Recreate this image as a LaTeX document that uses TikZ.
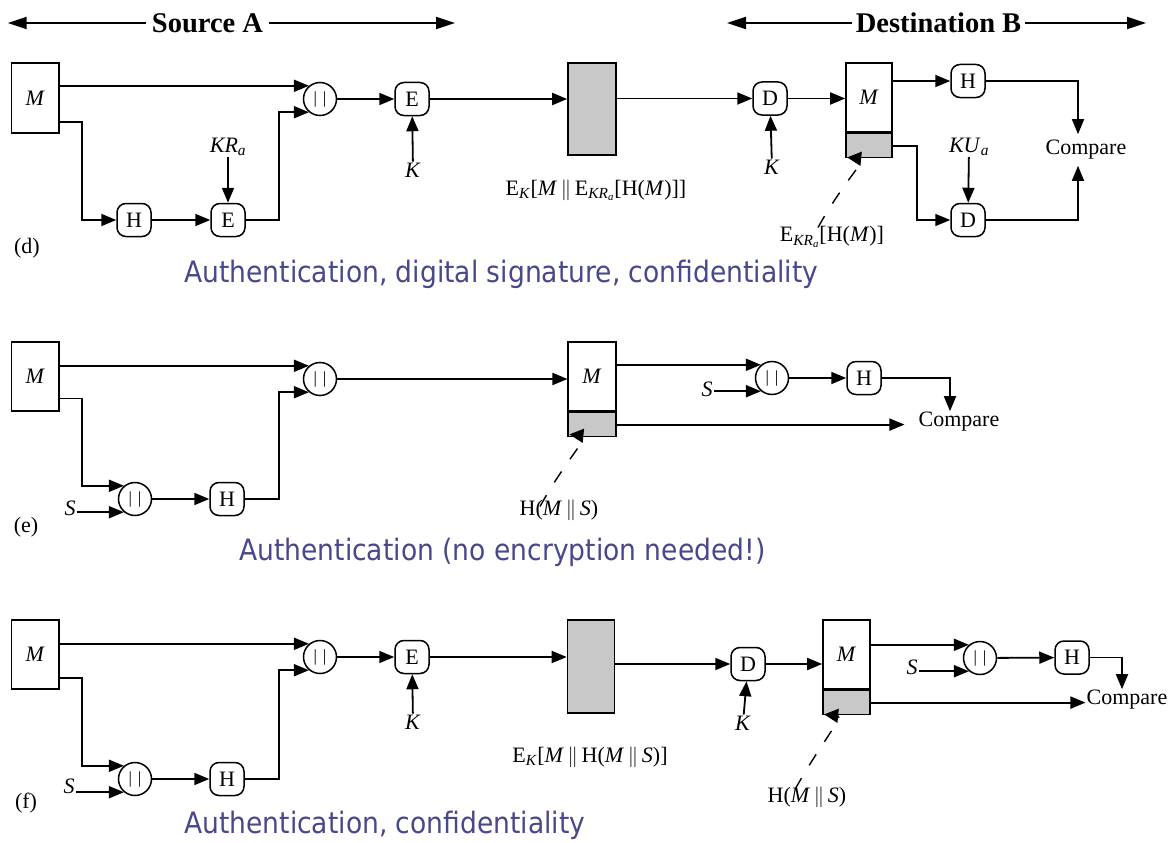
\documentclass[tikz,border=0pt]{standalone}
\usepackage{fontspec}
\setmainfont{Liberation Serif}
\newfontfamily\capfont[FakeStretch=0.9]{DejaVu Sans}
\usetikzlibrary{arrows.meta,calc}
\definecolor{capblue}{RGB}{72,72,140}
\definecolor{boxgray}{RGB}{200,200,200}
\newcommand{\catbars}{{\fontsize{17}{17}\selectfont|\kern6pt|}}
\newcommand{\dbar}{\,$\Vert$\,}
\begin{document}
\begin{tikzpicture}[x=1pt,y=-1pt,
 every node/.style={font=\fontsize{22}{24}\selectfont, inner sep=1pt},
 arr/.style={line width=1.8pt,-{Triangle[length=15pt,width=12pt]}},
 harr/.style={line width=2pt,-{Triangle[length=19pt,width=12pt]}},
 cat/.style={circle,draw,line width=1.5pt,minimum size=33pt,inner sep=0pt},
 op/.style={draw,line width=1.5pt,rounded corners=9pt,minimum width=34pt,minimum height=33pt,inner sep=0pt},
 mbox/.style={draw,line width=1.6pt,minimum width=47.5pt,minimum height=70pt,inner sep=0pt},
 gbox/.style={draw,line width=1.6pt,fill=boxgray,inner sep=0pt},
 ptr/.style={line width=1.4pt,dash pattern=on 13pt off 15pt,-{Triangle[length=14pt,width=14pt]}},
 captext/.style={font=\capfont\fontsize{29.5}{32}\selectfont,text=capblue,anchor=base west,inner sep=0pt},
 hdr/.style={font=\bfseries\fontsize{28.5}{30}\selectfont,inner xsep=6pt}]
\useasboundingbox (0,0) rectangle (1170,843);
\fill[white] (0,0) rectangle (1170,843);

% ---------- headers
\node[hdr] (hsA) at (207.5,23) {Source A};
\coordinate (hA1) at (7.7,23);
\coordinate (hA2) at (455,23);
\draw[harr] (hsA.west) -- (hA1);
\draw[harr] (hsA.east) -- (hA2);
\node[hdr,inner xsep=4pt] (hdB) at (938.5,23) {Destination B};
\coordinate (hB1) at (727,23);
\coordinate (hB2) at (1146,23);
\draw[harr] (hdB.west) -- (hB1);
\draw[harr] (hdB.east) -- (hB2);

% ---------- panel (d)
\node[mbox] (dM) at (35.25,98) {\textit{M}};
\node[cat] (dcat) at (320,99) {\catbars};
\node[op] (dH) at (134,220) {H};
\node[op] (dE) at (228,220) {E};
\node (dKR) at (228,147) {\textit{KR}\textsubscript{\textit{a}}};
\node[op] (dE1) at (412,99) {E};
\node (dK) at (413,170) {\textit{K}};
\node[gbox,minimum width=48pt,minimum height=92pt] (dG) at (592,109) {};
\node (dL1) at (596,190) {E\textsubscript{\textit{K}}[\textit{M}\dbar E\textsubscript{\textit{KR}\textsubscript{\textit{a}}}[H(\textit{M})]]};
\node[op] (dD) at (770,98.5) {D};
\node (dK2) at (772,167) {\textit{K}};
\node[mbox,minimum width=46pt,minimum height=69pt] (dR) at (869,97.5) {\textit{M}};
\node[gbox,minimum width=46pt,minimum height=24pt,anchor=north] (dRg) at (dR.south) {};
\node[op] (dH2) at (968,81) {H};
\node[op] (dD2) at (968,220) {D};
\node (dKU) at (969,147) {\textit{KU}\textsubscript{\textit{a}}};
\node[inner ysep=6pt] (dC) at (1086,150) {Compare};
\node (dL2) at (832,237) {E\textsubscript{\textit{KR}\textsubscript{\textit{a}}}[H(\textit{M})]};
\node (dlab) at (27,248) {(d)};
\node[captext] (dcap) at (184,282) {Authentication, digital signature, confidentiality};

\draw[arr] (dM.east |- dcat.130) -- (dcat.130);
\coordinate (dk1) at (82,220);
\draw[arr] ([yshift=-24pt]dM.east) -| (dk1) -- (dH);
\draw[arr] (dH) -- (dE);
\draw[arr] (dKR) -- (dE);
\coordinate (dk2) at (279,220);
\draw[arr] (dE) -- (dk2) |- (dcat.230);
\draw[arr] (dcat) -- (dE1);
\draw[arr] (dK) -- (dE1);
\draw[arr] (dE1) -- (dE1 -| dG.west);
\draw[arr] (dG.east |- dD) -- (dD);
\draw[arr] (dK2) -- (dD);
\draw[arr] (dD) -- (dD -| dR.west);
\draw[arr] (dR.east |- dH2) -- (dH2);
\draw[arr] (dH2) -| ([xshift=-8pt]dC.north);
\coordinate (dk3) at (917,220);
\draw[arr] (dRg.east) -| (dk3) -- (dD2);
\draw[arr] (dKU) -- (dD2);
\draw[arr] (dD2) -| ([xshift=-8pt]dC.south);
\coordinate (dps) at ([xshift=-14pt,yshift=-2pt]dL2.north);
\coordinate (dpt) at ([xshift=2pt,yshift=1pt]dRg.south west);
\coordinate (dpa) at ($(dps)+(25,-45)$);
\coordinate (dpb) at ($(dpt)+(20,2)$);
\draw[ptr] (dps) .. controls (dpa) and (dpb) .. (dpt);

% ---------- panel (e)
\node[mbox,minimum height=69pt] (eM) at (35.25,376.5) {\textit{M}};
\node[cat] (ecat) at (320,379) {\catbars};
\node[cat] (ecat2) at (135,499) {\catbars};
\node (eS) at (70,508) {\textit{S}};
\node[op] (eH) at (227,499) {H};
\node[mbox,minimum height=69pt] (eR) at (592,376.5) {\textit{M}};
\node[gbox,minimum width=47.5pt,minimum height=24pt,anchor=north] (eRg) at (eR.south) {};
\node[cat] (ecat3) at (772,378) {\catbars};
\node (eS2) at (707,389) {\textit{S}};
\node[op] (eH2) at (864,378) {H};
\node (eC) at (959,422) {Compare};
\node (eL) at (559,510) {H(\textit{M}\dbar\textit{S})};
\node (elab) at (26,527) {(e)};
\node[captext] (ecap) at (239,560) {Authentication (no encryption needed!)};

\draw[arr] (eM.east |- ecat.130) -- (ecat.130);
\coordinate (ek1) at (82,440);
\draw[arr] ([yshift=-22pt]eM.east) -| (ek1) |- (ecat2.130);
\draw[arr] (eS.east |- ecat2.230) -- (ecat2.230);
\draw[arr] (ecat2) -- (eH);
\coordinate (ek2) at (279,440);
\draw[arr] (eH) -| (ek2) |- (ecat.230);
\draw[arr] (ecat) -- (ecat -| eR.west);
\draw[arr] (eR.east |- ecat3.130) -- (ecat3.130);
\draw[arr] (eS2.east |- ecat3.230) -- (ecat3.230);
\draw[arr] (ecat3) -- (eH2);
\draw[arr] (eH2) -| ([xshift=-9pt]eC.north);
\draw[arr] (eRg.east) -- ($(eC.west |- eRg.east)+(-13,0)$);
\coordinate (eps) at ([xshift=-19pt,yshift=-8pt]eL.north);
\coordinate (ept) at ([xshift=2pt,yshift=3pt]eRg.south west);
\coordinate (epa) at ($(eps)+(25,-45)$);
\coordinate (epb) at ($(ept)+(20,2)$);
\draw[ptr] (eps) .. controls (epa) and (epb) .. (ept);

% ---------- panel (f)
\node[mbox,minimum height=69pt] (fM) at (35.25,654.5) {\textit{M}};
\node[cat] (fcat) at (320,657) {\catbars};
\node[cat] (fcat2) at (135,779) {\catbars};
\node (fS) at (69,786) {\textit{S}};
\node[op] (fH) at (227,779) {H};
\node[op] (fE) at (412,657) {E};
\node (fK) at (413,722) {\textit{K}};
\node[gbox,minimum width=47pt,minimum height=93pt] (fG) at (591,666.5) {};
\node (fL1) at (590,757) {E\textsubscript{\textit{K}}[\textit{M}\dbar H(\textit{M}\dbar\textit{S})]};
\node[op] (fD) at (748,664) {D};
\node (fK2) at (743,723) {\textit{K}};
\node[mbox,minimum width=47pt,minimum height=69pt] (fR) at (846.5,654.5) {\textit{M}};
\node[gbox,minimum width=47pt,minimum height=24pt,anchor=north] (fRg) at (fR.south) {};
\node[cat] (fcat3) at (980,658) {\catbars};
\node (fS2) at (912,667) {\textit{S}};
\node[op] (fH2) at (1072,657.5) {H};
\node (fC) at (1127,700) {Compare};
\node (fL2) at (807,797) {H(\textit{M}\dbar\textit{S})};
\node (flab) at (26,803) {(f)};
\node[captext] (fcap) at (184,833) {Authentication, confidentiality};

\draw[arr] (fM.east |- fcat.130) -- (fcat.130);
\coordinate (fk1) at (82,720);
\draw[arr] ([yshift=-23.5pt]fM.east) -| (fk1) |- (fcat2.130);
\draw[arr] (fS.east |- fcat2.230) -- (fcat2.230);
\draw[arr] (fcat2) -- (fH);
\coordinate (fk2) at (279,720);
\draw[arr] (fH) -| (fk2) |- (fcat.230);
\draw[arr] (fcat) -- (fE);
\draw[arr] (fK) -- (fE);
\draw[arr] (fE) -- (fE -| fG.west);
\draw[arr] (fG.east |- fD) -- (fD);
\draw[arr] (fK2) -- (fD);
\draw[arr] (fD) -- (fD -| fR.west);
\draw[arr] (fR.east |- fcat3.130) -- (fcat3.130);
\draw[arr] (fS2.east |- fcat3.230) -- (fcat3.230);
\draw[arr] (fcat3) -- (fH2);
\draw[arr] (fH2) -| ([xshift=-5pt]fC.north);
\draw[arr] (fRg.east) -- (fC.west |- fRg.east);
\coordinate (fps) at ([xshift=-12pt,yshift=-4pt]fL2.north);
\coordinate (fpt) at ([xshift=2pt,yshift=1pt]fRg.south west);
\coordinate (fpa) at ($(fps)+(25,-45)$);
\coordinate (fpb) at ($(fpt)+(20,2)$);
\draw[ptr] (fps) .. controls (fpa) and (fpb) .. (fpt);
\end{tikzpicture}
\end{document}
